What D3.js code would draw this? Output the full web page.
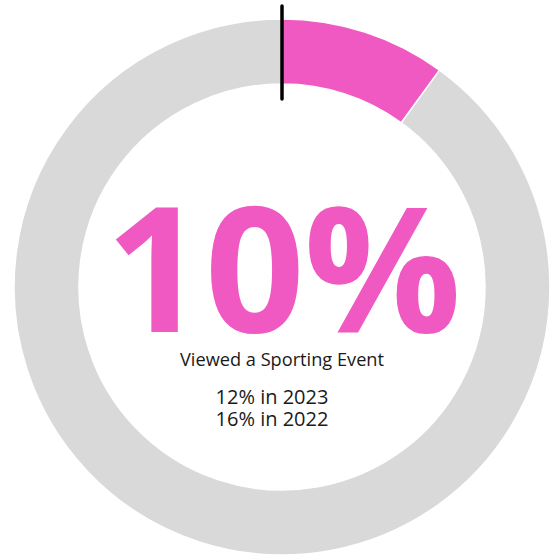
<!DOCTYPE html>
<html><head><meta charset="utf-8">
<script src="https://cdn.jsdelivr.net/npm/d3@7"></script>
<style>html,body{margin:0;padding:0;background:#fff;}svg{display:block;}</style>
</head><body>
<script>
const categories = ["Viewed a Sporting Event", "Other"];
const values = [10, 90];
const headline = "10%";
const label = "Viewed a Sporting Event";
const comparisons = ["12% in 2023", "16% in 2022"];
const colors = ["#EF59C1", "#D9D9D9"];

const W = 554, H = 557;
const cx = 282, cy = 287, rOuter = 268, rInner = 203;

const svg = d3.select("body").append("svg").attr("width", W).attr("height", H);
const g = svg.append("g").attr("transform", `translate(${cx},${cy})`);

const pie = d3.pie().sort(null).value(d => d)(values);
const arc = d3.arc().innerRadius(rInner).outerRadius(rOuter);
const color = d3.scaleOrdinal().domain(categories).range(colors);

g.selectAll("path.slice").data(pie).enter().append("path")
  .attr("class", "slice")
  .attr("d", arc)
  .attr("fill", (d, i) => color(categories[i]))
  .attr("stroke", "#fff").attr("stroke-width", 1.5);

// start marker
g.append("line")
  .attr("x1", 0).attr("x2", 0)
  .attr("y1", -(rOuter + 13)).attr("y2", -(rInner - 15))
  .attr("stroke", "#000").attr("stroke-width", 3.5).attr("stroke-linecap", "round");

svg.append("text").attr("x", 283).attr("y", 332)
  .attr("text-anchor", "middle")
  .attr("font-family", "'Open Sans', sans-serif").attr("font-weight", 700)
  .attr("font-size", 175).attr("fill", colors[0]).attr("letter-spacing", -1)
  .text(headline);

svg.append("text").attr("x", 282).attr("y", 366)
  .attr("text-anchor", "middle")
  .attr("font-family", "'Open Sans', sans-serif")
  .attr("font-size", 18.2).attr("fill", "#1a1a1a")
  .text(label);

svg.selectAll("text.cmp").data(comparisons).enter().append("text")
  .attr("class", "cmp")
  .attr("x", 272).attr("y", (d, i) => 404 + i * 22)
  .attr("text-anchor", "middle")
  .attr("font-family", "'Open Sans', sans-serif")
  .attr("font-size", 20).attr("fill", "#1a1a1a")
  .text(d => d);
</script>
</body></html>
